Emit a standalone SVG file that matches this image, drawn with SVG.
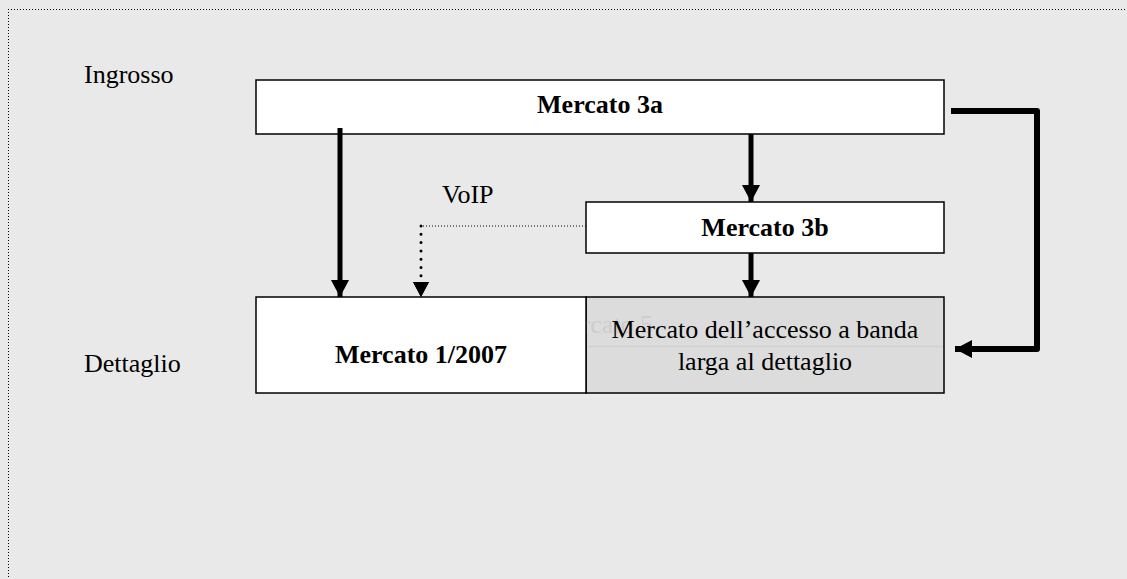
<svg xmlns="http://www.w3.org/2000/svg" width="1127" height="579" viewBox="0 0 1127 579">
<style>
.box{fill:#fff;stroke:#000;stroke-width:1.5}
.gray{fill:#dcdcdc;stroke:#000;stroke-width:1.5}
.t{font-family:"Liberation Serif","Times New Roman",serif;font-size:26px;fill:#000}
.b{font-weight:bold}
.thick{stroke:#000;stroke-width:5;fill:none}
</style>
<defs>
<marker id="ah" markerUnits="userSpaceOnUse" markerWidth="18" markerHeight="18" refX="17" refY="9" orient="auto">
<path d="M0,0 L17,9 L0,18 Z" fill="#000"/>
</marker>
<marker id="ahs" markerUnits="userSpaceOnUse" markerWidth="16" markerHeight="16" refX="15" refY="8" orient="auto">
<path d="M0,0 L15,8 L0,16 Z" fill="#000"/>
</marker>
</defs>
<rect x="0" y="0" width="1127" height="579" fill="#e9e9e9"/>
<g id="frame" stroke="#000" stroke-width="1" stroke-dasharray="1 2" fill="none">
<line x1="8" y1="9.5" x2="1127" y2="9.5"/>
<line x1="8.5" y1="9" x2="8.5" y2="579"/>
</g>
<g id="label-ingrosso"><text class="t" x="84" y="83">Ingrosso</text></g>
<g id="label-dettaglio"><text class="t" x="84" y="372">Dettaglio</text></g>
<g id="node-3a">
<rect class="box" x="256" y="80" width="688" height="54"/>
<text class="t b" x="600" y="113" text-anchor="middle">Mercato 3a</text>
</g>
<g id="node-3b">
<rect class="box" x="586" y="202" width="358" height="51"/>
<text class="t b" x="765" y="236" text-anchor="middle">Mercato 3b</text>
</g>
<g id="node-banda">
<rect class="gray" x="586" y="297" width="358" height="96"/>
<text x="547" y="333" font-family="Liberation Serif, serif" font-size="26" fill="#cdcdcd">Mercato 5</text>
<line x1="587" y1="346.5" x2="943" y2="346.5" stroke="#d0d0d0" stroke-width="1.5"/>
<text class="t" x="765" y="338" text-anchor="middle">Mercato dell’accesso a banda</text>
<text class="t" x="765" y="370" text-anchor="middle">larga al dettaglio</text>
</g>
<g id="node-1-2007">
<rect class="box" x="256" y="297" width="330" height="96"/>
<text class="t b" x="421" y="363" text-anchor="middle">Mercato 1/2007</text>
</g>
<g id="connectors">
<line class="thick" x1="340" y1="128" x2="340" y2="297" marker-end="url(#ah)"/>
<line class="thick" x1="751" y1="134" x2="751" y2="202" marker-end="url(#ah)"/>
<line class="thick" x1="751" y1="253" x2="751" y2="297" marker-end="url(#ah)"/>
<polyline points="951,111 1037,111 1037,349 955,349" stroke="#000" stroke-width="6" fill="none" stroke-linejoin="round" marker-end="url(#ah)"/>
<line x1="586" y1="226" x2="421" y2="226" stroke="#000" stroke-width="1" stroke-dasharray="1 2"/>
<line x1="421" y1="226" x2="421" y2="282" stroke="#000" stroke-width="3" stroke-linecap="round" stroke-dasharray="0 8.3"/>
<line x1="421" y1="280" x2="421" y2="297" stroke="none" marker-end="url(#ahs)"/>
<path d="M413,282 L429,282 L421,297 Z" fill="#000"/>
<text class="t" x="442" y="203">VoIP</text>
</g>
</svg>
